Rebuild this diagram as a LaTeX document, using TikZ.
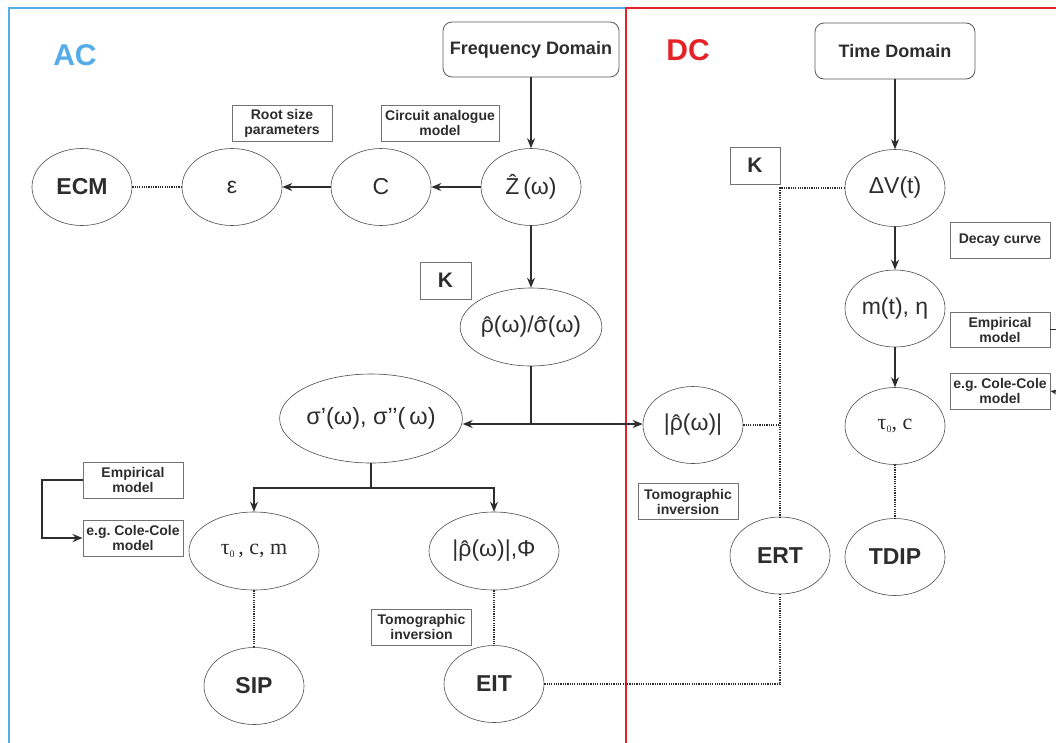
\documentclass[tikz,border=0pt]{standalone}
\usepackage{fontspec}
\setmainfont{Liberation Sans}
\newfontfamily\serifm{Liberation Serif}
\usetikzlibrary{arrows.meta,shapes.geometric}
\definecolor{acblue}{RGB}{84,172,232}
\definecolor{dcred}{RGB}{228,34,40}
\definecolor{ink}{RGB}{45,45,45}
\newcommand{\sub}[1]{{\fontsize{10}{10}\selectfont\raisebox{-3pt}{#1}}}
\newcommand{\hatc}[1]{\ooalign{#1\cr\hidewidth\raisebox{-1pt}{ˆ}\hidewidth\cr}}
\begin{document}
\begin{tikzpicture}[x=1pt,y=-1pt,
  ell/.style={shape=ellipse, draw=black!70, line width=0.6pt, inner sep=0pt,
    minimum width=100pt, minimum height=77pt, text=ink, font=\fontsize{23}{25}\selectfont},
  bigell/.style={ell, font=\bfseries\fontsize{23}{25}\selectfont},
  lbl/.style={draw=black!55, line width=0.9pt, rectangle, inner sep=0pt,
    minimum width=100pt, minimum height=36pt, text=ink, align=center,
    font=\bfseries\fontsize{14}{15}\selectfont},
  kbox/.style={lbl, minimum width=51pt, minimum height=37pt, font=\bfseries\fontsize{21}{22}\selectfont},
  dom/.style={draw=black!65, line width=0.8pt, rounded corners=9pt, inner sep=0pt,
    text=ink, font=\bfseries\fontsize{18}{20}\selectfont},
  arr/.style={-{Stealth[length=10pt,width=8pt]}, line width=1.4pt, draw=ink},
  arrs/.style={-{Stealth[length=6pt,width=5pt]}, line width=1.2pt, draw=ink},
  ln/.style={line width=1.4pt, draw=ink},
  dot/.style={line width=1.5pt, draw=ink, dash pattern=on 1.2pt off 1.1pt},
]
\useasboundingbox (0,0) rectangle (1056,742);
\clip (0,0) rectangle (1056,742);
\fill[white] (0,0) rectangle (1056,742);

% frames
\draw[acblue, line width=2pt] (626,8) -- (9,8) -- (9,750);
\draw[dcred, line width=2pt] (626,750) -- (626,8) -- (1062,8);
\node[text=acblue, font=\bfseries\fontsize{30}{32}\selectfont] (ac) at (75,55) {AC};
\node[text=dcred, font=\bfseries\fontsize{30}{32}\selectfont] (dc) at (688,50) {DC};

% AC side
\node[dom, minimum width=176pt, minimum height=55pt] (fd) at (531,49.5) {Frequency Domain};
\node[ell] (zh) at (531,187) {Ẑ\,(ω)};
\node[ell] (c) at (381,187) {C};
\node[ell] (eps) at (232,187) {ε};
\node[bigell] (ecm) at (82,187) {ECM};
\node[lbl] (rsp) at (282,123) {Root size\\parameters};
\node[lbl, minimum width=118pt] (cam) at (440,123) {Circuit analogue\\model};
\node[kbox] (k1) at (445.5,280.5) {K};
\node[ell, minimum width=131pt, minimum height=78pt] (rs) at (531,327) {\hatc{ρ}(ω)/\hatc{σ}(ω)};
\node[ell, minimum width=151pt, minimum height=89pt, font=\fontsize{23.5}{26}\selectfont] (sg) at (371,418.5) {σ’(ω), σ’’(\,ω)};
\coordinate (j1) at (531,424);
\node[ell] (rh) at (693,425) {|\hatc{ρ}(ω)|};
\coordinate (j2) at (371,488);
\node[ell, minimum width=130pt, minimum height=78pt, font=\serifm\fontsize{22}{24}\selectfont] (tcm) at (254,551) {τ\sub{0}\,, c, m};
\node[ell, minimum width=130pt, minimum height=78pt] (rp) at (494,551) {|\hatc{ρ}(ω)|,Φ};
\node[bigell] (sip) at (254,686) {SIP};
\node[bigell] (eit) at (494,684) {EIT};
\node[lbl] (ti1) at (421.5,627) {Tomographic\\inversion};
\node[lbl] (em1) at (133,480) {Empirical\\model};
\node[lbl] (cc1) at (133,538) {e.g.\ Cole-Cole\\model};
\coordinate (b1) at (42,480);

% DC side
\node[dom, minimum width=160pt, minimum height=56pt] (td) at (895,51) {Time Domain};
\node[ell] (dv) at (895,188) {ΔV(t)};
\node[kbox, minimum width=50pt] (k2) at (755,165.5) {K};
\node[lbl] (dcv) at (1000,240) {Decay curve};
\node[ell] (mt) at (895,308.5) {m(t), η};
\node[lbl, minimum height=35pt] (em2) at (1000,329.5) {Empirical\\model};
\node[lbl] (cc2) at (1000,391) {e.g.\ Cole-Cole\\model};
\node[ell, font=\serifm\fontsize{22}{24}\selectfont] (tc) at (895,426) {τ\sub{0}, c};
\node[bigell] (ert) at (780,555.5) {ERT};
\node[bigell] (tdip) at (895,557) {TDIP};
\node[lbl] (ti2) at (688,501.5) {Tomographic\\inversion};
\coordinate (r1) at (1062,329.5);
\coordinate (r2) at (1062,393);

% connectors AC
\draw[arr] (fd.south) -- (zh.north);
\draw[arr] (zh.west) -- (c.east);
\draw[arr] (c.west) -- (eps.east);
\draw[dot] (ecm.east) -- (eps.west);
\draw[arr] (zh.south) -- (rs.north);
\draw[ln] (rs.south) -- (j1);
\draw[arr] (j1) -- (sg.east |- j1);
\draw[arr] (j1) -- (rh.west |- j1);
\draw[ln] (sg.south) -- (j2);
\draw[arr] (j2) -| (tcm.north);
\draw[arr] (j2) -| (rp.north);
\draw[dot] (tcm.south) -- (sip.north);
\draw[dot] (rp.south) -- (eit.north);
\draw[arr] (em1.west) -- (b1) |- (cc1.west);

% connectors DC
\draw[arr] (td.south) -- (dv.north);
\draw[arr] (dv.south) -- (mt.north);
\draw[arr] (mt.south) -- (tc.north);
\draw[dot] (tc.south) -- (tdip.north);
\draw[dot] (dv.west) -| (ert.north);
\draw[dot] (rh.east) -- (ert.north |- rh.east);
\draw[dot] (eit.east) -| (ert.south);
\draw[line width=1.2pt, draw=ink] (em2.east) -- (r1);
\draw[arrs] (r2) -- (cc2.east);
\end{tikzpicture}
\end{document}
